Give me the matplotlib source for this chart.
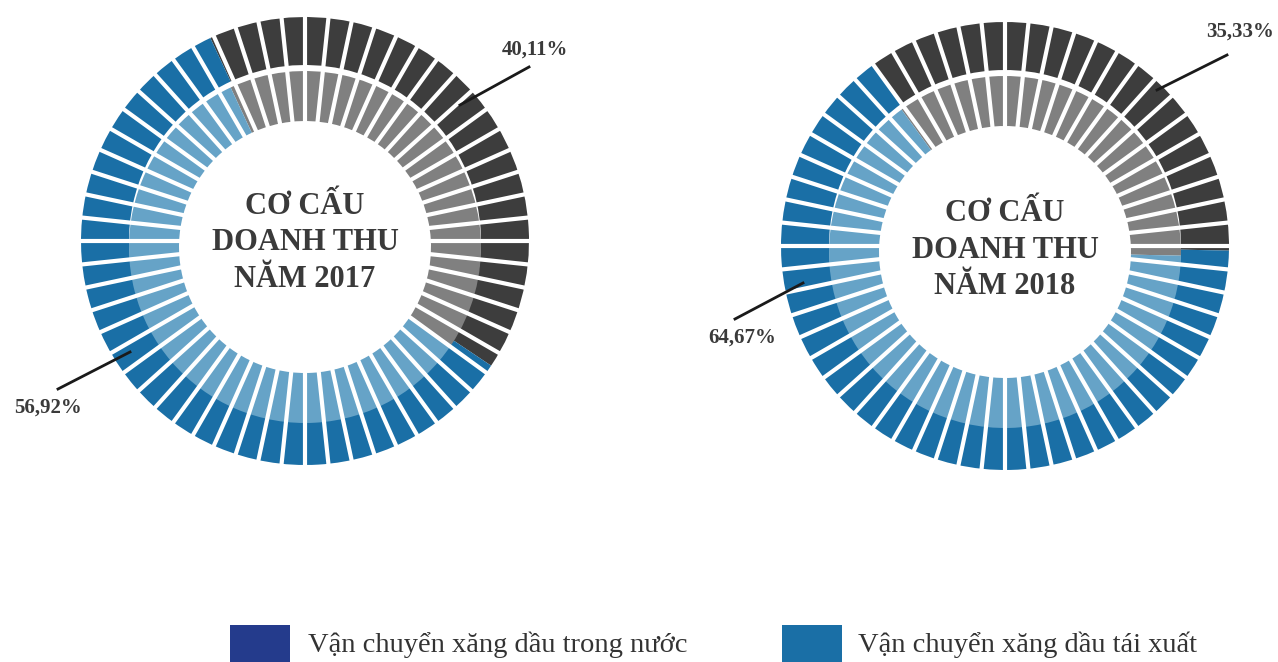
import numpy as np
import matplotlib.pyplot as plt
from matplotlib.patches import Rectangle

# data
years = ['2017', '2018']
gray_share = [40.11, 35.33]      # grey part of each ring
blue_share = [56.92, 64.67]      # "tái xuất" part
legend_labels = ['Vận chuyển xăng dầu trong nước', 'Vận chuyển xăng dầu tái xuất']
legend_colors = ['#243b8c', '#1a6fa6']

# layout (pixels, y from the bottom)
W, H = 1278, 662
centers = [(305, H - 241), (1005, H - 246)]
title_y = [H - 243, H - 250]
start_angles = [115, 126]
R_OUT, R_MID, R_IN = 224, 176, 126
inner_shift = -6
n_seg = 60

dark_gray, mid_gray = '#3d3d3d', '#808080'
blue, light_blue = '#1a6fa6', '#66a3c7'
text_col = '#3a3a3a'
serif = ['Liberation Serif', 'DejaVu Serif']

fig = plt.figure(figsize=(W / 100, H / 100), dpi=100)
ax = fig.add_axes([0, 0, 1, 1])

for i, year in enumerate(years):
    cx, cy = centers[i]
    vals = [gray_share[i], blue_share[i]]
    # outer ring
    ax.pie(vals, radius=R_OUT, center=(cx, cy), startangle=start_angles[i],
           counterclock=False, colors=[dark_gray, blue],
           wedgeprops=dict(width=R_OUT - R_MID, linewidth=0))
    # inner ring (slightly lower)
    ax.pie(vals, radius=R_MID, center=(cx, cy + inner_shift), startangle=start_angles[i],
           counterclock=False, colors=[mid_gray, light_blue],
           wedgeprops=dict(width=R_MID - R_IN, linewidth=0))
    # white gaps between segments
    for k in range(n_seg):
        a = np.deg2rad(90 + k * 360 / n_seg)
        ax.plot([cx + 100 * np.cos(a), cx + 235 * np.cos(a)],
                [cy + 100 * np.sin(a), cy + 235 * np.sin(a)],
                color='white', lw=3.0, solid_capstyle='butt')
    ax.text(cx, title_y[i], 'CƠ CẤU\nDOANH THU\nNĂM ' + year,
            ha='center', va='center', fontsize=22, fontweight='bold',
            family=serif, color=text_col, linespacing=1.36)

# percentage labels with leader lines
labels = [('40,11%', 535, 50, (529, 67), (460, 105)),
          ('56,92%', 48, 408, (58, 389), (130, 352)),
          ('35,33%', 1240, 32, (1227, 55), (1157, 90)),
          ('64,67%', 742, 338, (735, 319), (803, 283))]
for txt, x, y, p0, p1 in labels:
    ax.text(x, H - y, txt, ha='center', va='center', fontsize=15,
            fontweight='bold', family=serif, color=text_col)
    ax.plot([p0[0], p1[0]], [H - p0[1], H - p1[1]], color='#1a1a1a', lw=2)

# legend (cut by the bottom edge)
leg_x = [230, 782]
leg_tx = [308, 858]
for j in range(2):
    ax.add_patch(Rectangle((leg_x[j], -10), 60, H - 625 + 10, color=legend_colors[j], lw=0))
    ax.text(leg_tx[j], H - 645, legend_labels[j], ha='left', va='center',
            fontsize=20.5, family=serif, color='#333333')

ax.set_xlim(0, W)
ax.set_ylim(0, H)
ax.set_aspect('auto')
ax.axis('off')
fig.savefig('out.png', dpi=100)
